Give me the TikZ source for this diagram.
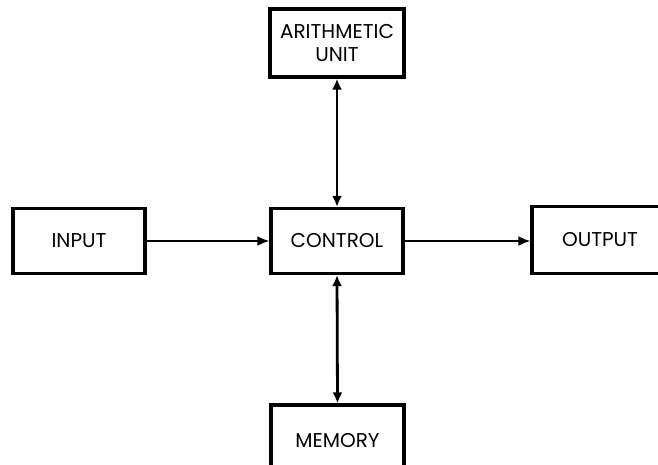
\documentclass[tikz,border=0pt]{standalone}
\usepackage{fontspec}
\setmainfont{Poppins}
\usetikzlibrary{arrows.meta}
\begin{document}
\begin{tikzpicture}[x=1pt,y=-1pt,
  blockbox/.style={draw=black,line width=3.2pt,fill=white,inner sep=0pt,
    font=\fontsize{20}{23}\selectfont,align=center},
  thickconn/.style={line width=2.8pt,{Latex[length=11pt,width=10pt]}-{Latex[length=11pt,width=10pt]}},
  thinconn/.style={line width=2pt,-{Latex[length=12pt,width=10pt]}}]
\useasboundingbox (0,0) rectangle (658,465);
\clip (0,0) rectangle (658,465);
\fill[white] (0,0) rectangle (658,465);
\node[blockbox,minimum width=134pt,minimum height=68pt] (arith) at (337,43) {ARITHMETIC\\UNIT};
\node[blockbox,minimum width=132pt,minimum height=65pt] (input) at (79,241) {INPUT};
\node[blockbox,minimum width=132pt,minimum height=65pt] (control) at (337,241) {CONTROL};
\node[blockbox,minimum width=136pt,minimum height=67pt] (output) at (600,240) {OUTPUT};
\node[blockbox,minimum width=133pt,minimum height=72pt] (memory) at (337.5,441) {MEMORY};
\draw[thickconn] (arith.south) -- (control.north);
\draw[thickconn] (control.south) -- (memory.north);
\draw[thinconn] (input.east) -- (control.west);
\draw[thinconn] (control.east) -- (control.east -| output.west);
\end{tikzpicture}
\end{document}
